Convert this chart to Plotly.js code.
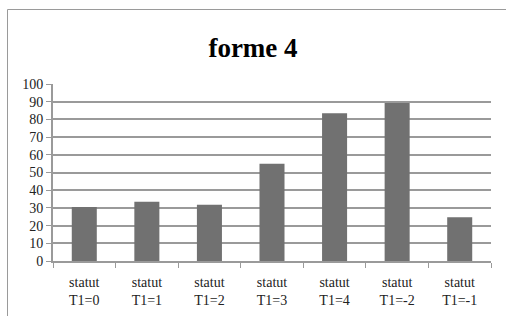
<!DOCTYPE html>
<html><head><meta charset="utf-8">
<script src="https://cdn.plot.ly/plotly-3.0.1.min.js"></script>
<style>
html,body{margin:0;padding:0;background:#fff;overflow:hidden;}
#chart{width:506px;height:316px;}
</style></head>
<body>
<div id="chart"></div>
<script>
const categories = ["statut<br>T1=0","statut<br>T1=1","statut<br>T1=2","statut<br>T1=3","statut<br>T1=4","statut<br>T1=-2","statut<br>T1=-1"];
const values = [30.5, 33.5, 31.8, 55, 83.5, 89.2, 24.7];
const yTicks = [0,10,20,30,40,50,60,70,80,90,100];

const trace = {type:'bar', x:categories, y:values, marker:{color:'#717171'}, hoverinfo:'none'};
// outer chart frame (left and top edges only, as in the original)
const W = 506, H = 316, mL = 53, mR = 15, mT = 84, mB = 55;
const pw = W - mL - mR, ph = H - mT - mB;
const fx = (px) => (px - mL) / pw;
const fy = (py) => (H - mB - py) / ph;
const layout = {
  width:W, height:H,
  paper_bgcolor:'#fff', plot_bgcolor:'rgba(0,0,0,0)',
  margin:{l:mL, r:mR, t:mT, b:mB},
  bargap:0.6,
  showlegend:false,
  title:{text:'<b>forme 4</b>', x:0.5, xanchor:'center', y:0.848, yanchor:'middle', yref:'container',
         font:{family:'Liberation Serif', size:27, color:'#000'}},
  font:{family:'Liberation Serif', size:14, color:'#222'},
  shapes:[
    {type:'line', xref:'paper', yref:'paper', x0:fx(7.5), x1:fx(7.5), y0:fy(9.5), y1:fy(320), line:{color:'#9a9a9a', width:1}},
    {type:'line', xref:'paper', yref:'paper', x0:fx(7.5), x1:fx(510), y0:fy(9.5), y1:fy(9.5), line:{color:'#9a9a9a', width:1}}
  ],
  xaxis:{type:'category', showline:true, linecolor:'#9a9a9a', linewidth:2,
         ticks:'outside', tickson:'boundaries', ticklen:5, tickcolor:'#9a9a9a', tickwidth:1,
         ticklabelstandoff:7,
         showgrid:false, tickfont:{family:'Liberation Serif', size:14, color:'#222'}},
  yaxis:{range:[0,100], tickvals:yTicks, showline:true, linecolor:'#9a9a9a', linewidth:2,
         ticks:'outside', ticklen:5, tickcolor:'#9a9a9a', tickwidth:1,
         showgrid:true, gridcolor:'#9a9a9a', gridwidth:2, zeroline:false,
         tickfont:{family:'Liberation Serif', size:14, color:'#222'}}
};
Plotly.newPlot('chart',[trace],layout,{staticPlot:true, displayModeBar:false});
</script>
</body></html>
